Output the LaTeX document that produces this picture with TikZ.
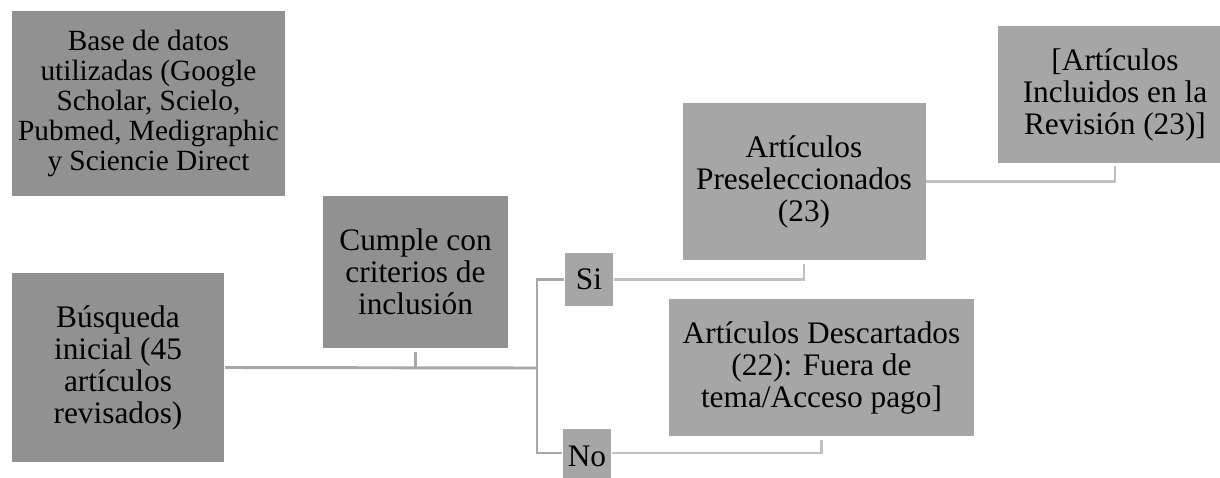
\documentclass[tikz,border=0pt]{standalone}
\usepackage{fontspec}
\setmainfont{Liberation Serif}
\definecolor{boxdark}{HTML}{919191}
\definecolor{boxlight}{HTML}{A6A6A6}
\definecolor{linedark}{HTML}{A8A8A8}
\definecolor{linelight}{HTML}{C0C0C0}
\begin{document}
\begin{tikzpicture}[x=0.75pt,y=-0.75pt]
		\tikzstyle{BX}=[rectangle,draw=white,line width=0.6pt,inner sep=0pt,align=center,font=\fontsize{23.5}{24}\selectfont]
		\tikzstyle{DK}=[BX,fill=boxdark]
		\tikzstyle{LT}=[BX,fill=boxlight]
		\tikzstyle{LN}=[draw=linedark,line width=2.2pt]
		\useasboundingbox (0,0) rectangle (1220,478);
		\fill[white] (0,0) rectangle (1220,478);
		\begin{scope}
		\node[DK,minimum width=206pt,minimum height=139pt,font=\fontsize{22}{22.5}\selectfont] (base) at (148.5,103.5) {Base de datos\\utilizadas (Google\\Scholar, Scielo,\\Pubmed, Medigraphic\\y Sciencie Direct};
		\node[DK,minimum width=160pt,minimum height=142pt] (busq) at (118,367.5) {Búsqueda\\inicial (45\\artículos\\revisados)};
		\node[DK,minimum width=139pt,minimum height=115pt] (cumple) at (415.5,272) {Cumple con\\criterios de\\inclusión};
		\node[LT,minimum width=37pt,minimum height=41pt] (si) at (589,279.5) {Si};
		\node[LT,minimum width=37pt,minimum height=42pt] (no) at (587,456) {No};
		\node[LT,minimum width=183pt,minimum height=119pt] (presel) at (804,181.5) {Artículos\\Preseleccionados\\(23)};
		\node[LT,minimum width=230pt,minimum height=104pt] (descart) at (821.5,367.5) {Artículos Descartados\\(22): Fuera de\\tema/Acceso pago]};
		\node[LT,minimum width=177pt,minimum height=103pt] (incl) at (1115,94.5) {[Artículos\\Incluidos en la\\Revisión (23)]};
		\coordinate (split) at (537,368);
		\coordinate (nojoin) at (537,453);
		\end{scope}
		
		\draw[LN] (busq.east) -- (split);
		\draw[LN] ([yshift=-2pt]cumple.south) -- (cumple |- split);
		\draw[LN] (si.west) -| (split);
		\draw[LN] (no.west |- nojoin) -- (nojoin) -- (split);
		\draw[LN,draw=linelight] (si.east) -| ([yshift=-2pt]presel.south);
		\draw[LN,draw=linelight] (no.east |- nojoin) -| ([yshift=-2pt]descart.south);
		\draw[LN,draw=linelight] (presel.east) -| ([yshift=-2pt]incl.south);
		\end{tikzpicture}
\end{document}
